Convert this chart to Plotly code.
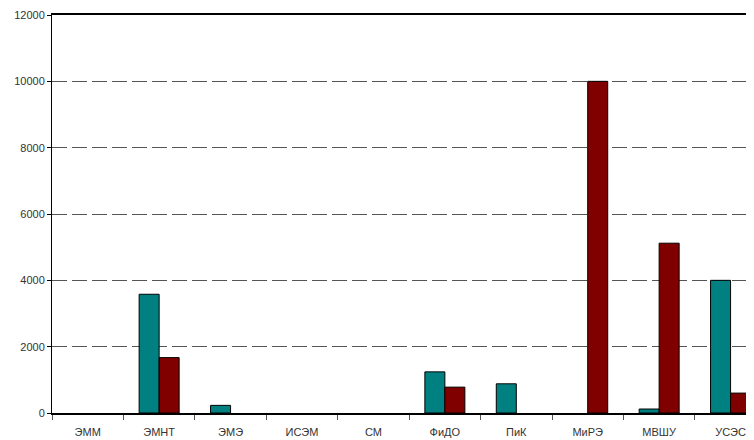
import plotly.graph_objects as go

categories = ["ЭММ", "ЭМНТ", "ЭМЭ", "ИСЭМ", "СМ", "ФиДО", "ПиК", "МиРЭ", "МВШУ", "УСЭС"]
series_a = [0, 3580, 230, 0, 0, 1240, 880, 0, 120, 4000]
series_b = [0, 1670, 0, 0, 0, 780, 0, 10000, 5120, 600]
y_ticks = [0, 2000, 4000, 6000, 8000, 10000, 12000]


def outline(values):
    return [1 if v > 0 else 0 for v in values]


fig = go.Figure()
fig.add_trace(go.Bar(x=categories, y=series_a,
                     marker=dict(color="#008080", line=dict(color="#000000", width=outline(series_a)))))
fig.add_trace(go.Bar(x=categories, y=series_b,
                     marker=dict(color="#800000", line=dict(color="#000000", width=outline(series_b)))))

fig.update_layout(
    width=754, height=440,
    margin=dict(l=44, r=0, t=7, b=35, autoexpand=False),
    paper_bgcolor="white", plot_bgcolor="white",
    barmode="group", bargap=0.44, bargroupgap=0,
    showlegend=False,
    font=dict(family="Liberation Sans, Arial, sans-serif", size=11, color="#333333"),
)
fig.update_xaxes(
    range=[-0.5, 9.44], automargin=False,
    showline=True, linecolor="#000000", linewidth=1.5, mirror=True,
    ticks="outside", tickson="boundaries", ticklen=5, tickcolor="#555555",
    ticklabelstandoff=8,
    showgrid=False,
)
fig.update_yaxes(
    range=[0, 12000], automargin=False, tickvals=y_ticks, ticktext=[str(v) for v in y_ticks],
    showline=True, linecolor="#000000", linewidth=1,
    ticks="outside", ticklen=4, tickcolor="#000000",
    showgrid=True, gridcolor="#555555", gridwidth=1.3, griddash="15px,5px",
    zeroline=False,
)
fig.write_html("out.html")
